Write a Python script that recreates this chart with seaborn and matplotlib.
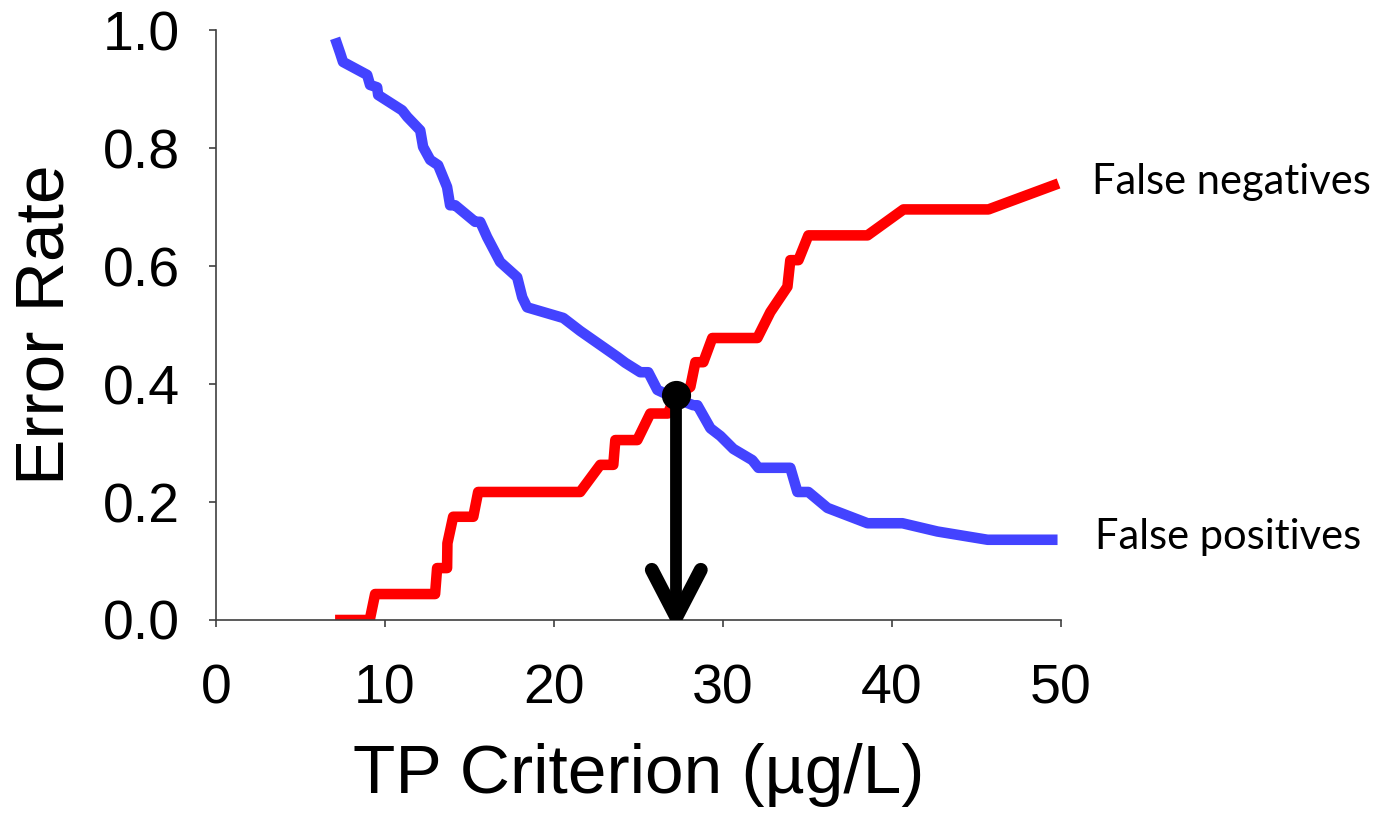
import matplotlib
matplotlib.use("Agg")
import matplotlib.pyplot as plt
import seaborn as sns
import pandas as pd

# False negatives (red)
fn_x = [7.05, 9.1, 9.42, 12.97, 13.09, 13.68, 13.7, 14.04, 15.23, 15.52, 21.56, 22.75, 23.52,
        23.64, 24.94, 25.71, 26.75, 27.2, 28.08, 28.38, 28.85, 29.38, 32.05, 32.82, 33.83, 34.0,
        34.48, 35.07, 38.57, 40.7, 45.73, 49.88]
fn_y = [0.0, 0.0, 0.044, 0.044, 0.088, 0.088, 0.13, 0.175, 0.175, 0.217, 0.217, 0.263, 0.263,
        0.305, 0.305, 0.35, 0.35, 0.38, 0.395, 0.437, 0.437, 0.478, 0.478, 0.522, 0.565, 0.61,
        0.61, 0.652, 0.652, 0.696, 0.696, 0.74]

# False positives (blue)
fp_x = [7.05, 7.35, 7.52, 8.95, 9.12, 9.54, 9.6, 11.02, 11.32, 12.09, 12.26, 12.68, 13.15, 13.68,
        13.86, 14.16, 15.34, 15.64, 16.05, 16.82, 17.83, 18.13, 18.42, 20.56, 21.56, 23.76, 24.23,
        25.12, 25.59, 26.13, 27.25, 28.26, 28.5, 29.27, 29.86, 30.63, 31.75, 32.11, 34.0, 34.42,
        35.07, 36.2, 38.57, 40.64, 42.71, 45.68, 49.82]
fp_y = [0.986, 0.961, 0.946, 0.924, 0.907, 0.903, 0.89, 0.864, 0.853, 0.83, 0.802, 0.78, 0.771,
        0.734, 0.703, 0.703, 0.675, 0.675, 0.649, 0.607, 0.581, 0.547, 0.53, 0.512, 0.49, 0.446,
        0.436, 0.42, 0.42, 0.39, 0.375, 0.364, 0.364, 0.325, 0.312, 0.29, 0.271, 0.258, 0.258,
        0.217, 0.217, 0.19, 0.164, 0.164, 0.15, 0.136, 0.136]

# Crossing point and arrow
cross_x = 27.25
cross_y = 0.381
arrow_tip_y = 0.005
head_dx = 1.45
head_dy = 0.08

x_ticks = [0, 10, 20, 30, 40, 50]
y_ticks = [0.0, 0.2, 0.4, 0.6, 0.8, 1.0]

sns.set_style("white")
plt.rcParams['font.family'] = ['Liberation Sans', 'DejaVu Sans']
plt.rcParams['text.color'] = 'black'
plt.rcParams['axes.labelcolor'] = 'black'

fig = plt.figure(figsize=(13.9, 8.13), dpi=100)
ax = fig.add_axes([0.1554, 0.2374, 0.6076, 0.7256])

fp_df = pd.DataFrame({"x": fp_x, "y": fp_y})
fn_df = pd.DataFrame({"x": fn_x, "y": fn_y})
sns.lineplot(data=fp_df, x="x", y="y", sort=False, estimator=None, ax=ax,
             color="#4343FF", linewidth=7.6, solid_capstyle="butt", solid_joinstyle="round")
sns.lineplot(data=fn_df, x="x", y="y", sort=False, estimator=None, ax=ax,
             color="#FF0000", linewidth=7.6, solid_capstyle="butt", solid_joinstyle="round")

# arrow
ax.plot([cross_x, cross_x], [cross_y, arrow_tip_y + 0.01], color="black", linewidth=8.5,
        solid_capstyle="butt", zorder=5)
ax.plot([cross_x - head_dx, cross_x, cross_x + head_dx],
        [arrow_tip_y + head_dy, arrow_tip_y, arrow_tip_y + head_dy],
        color="black", linewidth=10, solid_capstyle="round", solid_joinstyle="miter", zorder=5)
ax.plot([cross_x], [cross_y], marker="o", markersize=20, color="black", zorder=6)

ax.set_xlim(0, 50)
ax.set_ylim(0, 1.0)
ax.set_xticks(x_ticks)
ax.set_xticklabels([str(v) for v in x_ticks])
ax.set_yticks(y_ticks)
ax.set_yticklabels([f"{v:.1f}" for v in y_ticks])
ax.tick_params(axis="both", which="major", labelsize=40, direction="out", length=5,
               width=1.2, color="#404040", labelcolor="black", left=True, bottom=True)
ax.tick_params(axis="y", pad=21)
ax.tick_params(axis="x", pad=26)
for s in ["top", "right"]:
    ax.spines[s].set_visible(False)
for s in ["left", "bottom"]:
    ax.spines[s].set_color("#404040")
    ax.spines[s].set_linewidth(1.2)

ax.set_xlabel("TP Criterion (µg/L)", fontsize=50, labelpad=20)
ax.set_ylabel("Error Rate", fontsize=50, labelpad=18)

ax.text(1.037, 0.742, "False negatives", transform=ax.transAxes, fontsize=30,
        family=["Lato", "DejaVu Sans"], va="center", ha="left", clip_on=False)
ax.text(1.041, 0.14, "False positives", transform=ax.transAxes, fontsize=30,
        family=["Lato", "DejaVu Sans"], va="center", ha="left", clip_on=False)

fig.savefig("out.png", dpi=100)
